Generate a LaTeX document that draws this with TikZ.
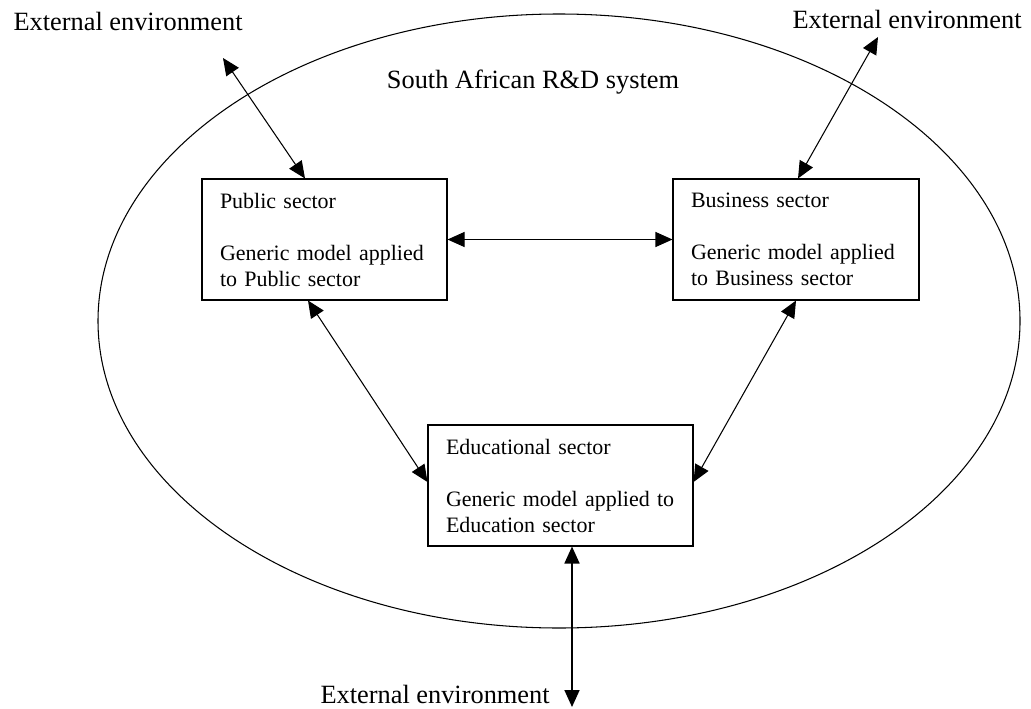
\documentclass[tikz,border=0pt]{standalone}
\usepackage{fontspec}
\setmainfont{Liberation Serif}
\usetikzlibrary{arrows.meta}

\begin{document}
\begin{tikzpicture}[line width=.6pt,>={Triangle[length=.34cm,width=.3cm]},
  sector/.style={draw,align=left,inner xsep=.36cm,minimum height=2.42cm,font=\fontsize{12.5}{14.8}\selectfont},
  outer/.style={anchor=base west,inner sep=0pt,font=\fontsize{15}{18}\selectfont}]
\useasboundingbox (0,0) rectangle (20.62,14.16);
\draw (11.18,7.74) ellipse (9.22 and 6.14);
\node[outer,anchor=base] (sys) at (10.66,12.38) {South African R\&D system};
\node[sector,text width=4.18cm] (pub) at (6.49,9.37) {Public sector\\[14.8pt]Generic model applied\\to Public sector};
\node[sector,text width=4.2cm] (bus) at (15.92,9.37) {Business sector\\[14.8pt]Generic model applied\\to Business sector};
\node[sector,text width=4.58cm] (edu) at (11.21,4.45) {Educational sector\\[14.8pt]Generic model applied to\\Education sector};
\coordinate (extL) at (4.46,13.0); \coordinate (extR) at (17.56,13.42); \coordinate (extB) at (11.44,0.02);
\node[outer] (lblL) at (0.26,13.54) {External environment};
\node[outer] (lblR) at (15.84,13.58) {External environment};
\node[outer] (lblB) at (6.4,0.1) {External environment};
\draw[<->] (extL) -- ([xshift=-.39cm]pub.north);
\draw[<->] (extR) -- ([xshift=.04cm]bus.north);
\draw[<->] (pub.east) -- (bus.west);
\draw[<->] ([xshift=-.33cm]pub.south) -- ([yshift=.07cm]edu.west);
\draw[<->] (bus.south) -- ([yshift=.07cm]edu.east);
\draw[<->,line width=1pt] ([xshift=.23cm]edu.south) -- (extB);
\end{tikzpicture}
\end{document}
